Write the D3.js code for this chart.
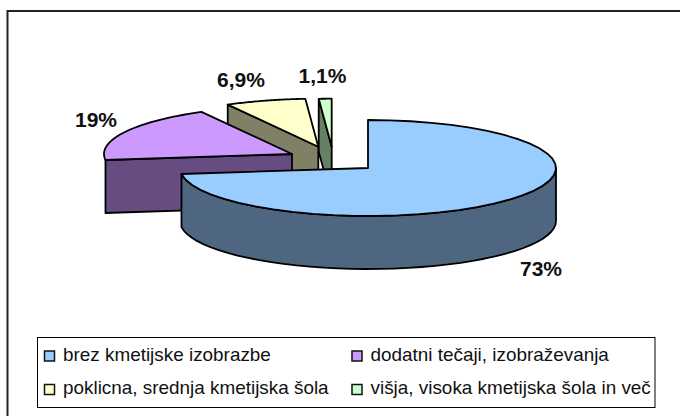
<!DOCTYPE html>
<html>
<head>
<meta charset="utf-8">
<script src="https://cdn.jsdelivr.net/npm/d3@7"></script>
<style>html,body{margin:0;padding:0;background:#fff}svg{display:block}</style>
</head>
<body>
<script>
const categories = ["brez kmetijske izobrazbe","dodatni tečaji, izobraževanja","poklicna, srednja kmetijska šola","višja, visoka kmetijska šola in več"];
const values = [73, 19, 6.9, 1.1];
const valueLabels = ["73%","19%","6,9%","1,1%"];
const topColors = ["#99CCFF","#CC99FF","#FFFFCC","#CCFFCC"];
const sideColors = ["#4F6680","#664C80","#808066","#668066"];

const W = 680, H = 416;
const rx = 188, ry = 48, depth = 53;
// exploded apex of each wedge
const apex = [[368,168],[292,154],[318.3,146.7],[331.7,146.7]];
const labelPos = [[541,276],[96,127],[241,87],[322.5,83]];

const svg = d3.select("body").append("svg").attr("width",W).attr("height",H);
// the outer frame runs off the right and bottom of the picture
svg.append("rect").attr("x",7.5).attr("y",11).attr("width",700).attr("height",440)
  .attr("fill","#fff").attr("stroke","#222").attr("stroke-width",2);

const pie = d3.pie().sort(null).value(d=>d)(values);
const line = d3.line();
const rim = (i,a,dz=0)=>[apex[i][0]+rx*Math.sin(a), apex[i][1]-ry*Math.cos(a)+dz];
const arcPts = (i,a0,a1,dz=0)=>d3.range(0,41).map(k=>rim(i,a0+(a1-a0)*k/40,dz));

const g = svg.append("g").attr("stroke","#000").attr("stroke-width",1.8).attr("stroke-linejoin","round");
const HALF = Math.PI/2;

// back to front: green, yellow, purple, blue
[3,2,1,0].forEach(i=>{
  const s = pie[i], a0 = s.startAngle, a1 = s.endAngle, c = apex[i];
  const p0 = rim(i,a0);
  if (i===0) {
    // outer wall from the right extreme round to the end of the wedge
    const wall = arcPts(i,HALF,a1).concat(arcPts(i,a1,HALF,depth));
    g.append("path").attr("d",line(wall)+"Z").attr("fill",sideColors[i]);
  } else {
    // cut face that looks toward the viewer
    const face = [p0,c,[c[0],c[1]+depth],[p0[0],p0[1]+depth]];
    g.append("path").attr("d",line(face)+"Z").attr("fill",sideColors[i]);
  }
  const top = [c].concat(arcPts(i,a0,a1));
  g.append("path").attr("d",line(top)+"Z").attr("fill",topColors[i]);
});

svg.append("g").selectAll("text").data(valueLabels).join("text")
  .attr("x",(d,i)=>labelPos[i][0]).attr("y",(d,i)=>labelPos[i][1])
  .attr("text-anchor","middle")
  .attr("font-family","'Liberation Sans',Arial,sans-serif").attr("font-weight","bold").attr("font-size",21)
  .attr("fill","#111").text(d=>d);

svg.append("rect").attr("x",37.5).attr("y",337.5).attr("width",617.5).attr("height",70)
  .attr("fill","#fff").attr("stroke","#000").attr("stroke-width",1);

const col = d3.scalePoint().domain([0,1]).range([44.5,352]);
const row = d3.scalePoint().domain([0,1]).range([356,389.5]);
const lg = svg.append("g").selectAll("g").data(categories).join("g")
  .attr("transform",(d,i)=>`translate(${col(i%2)},${row(i>>1)})`);
lg.append("rect").attr("x",0).attr("y",-5).attr("width",10).attr("height",10)
  .attr("fill",(d,i)=>topColors[i]).attr("stroke","#111").attr("stroke-width",1.5);
lg.append("text").attr("transform","translate(18.5,4.5) scale(1.08,1)")
  .attr("font-family","'Liberation Sans',Arial,sans-serif").attr("font-size",17.5)
  .attr("fill","#111").text(d=>d);
</script>
</body>
</html>
